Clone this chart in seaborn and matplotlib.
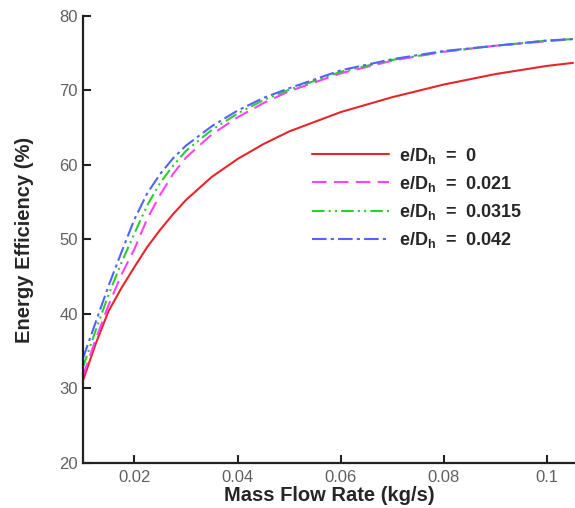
import pandas as pd
import numpy as np
import matplotlib
matplotlib.use('Agg')
import matplotlib.pyplot as plt
import seaborn as sns

# mass flow rate (kg/s)
mass_flow = [0.01, 0.0125, 0.015, 0.0175, 0.02, 0.0225, 0.025, 0.0275, 0.03, 0.035,
             0.04, 0.045, 0.05, 0.06, 0.07, 0.08, 0.09, 0.1, 0.105]

# energy efficiency (%) for each e/Dh
eff_0 = [31.0, 36.0, 40.4, 43.5, 46.3, 49.0, 51.3, 53.4, 55.3, 58.4,
         60.8, 62.8, 64.5, 67.1, 69.1, 70.8, 72.2, 73.3, 73.7]
eff_021 = [31.6, 36.6, 41.2, 45.3, 48.7, 52.8, 56.0, 58.8, 61.0, 64.1,
           66.4, 68.3, 69.9, 72.3, 74.0, 75.2, 76.0, 76.6, 76.9]
eff_0315 = [32.8, 37.8, 42.6, 46.9, 50.8, 54.6, 57.6, 59.9, 61.9, 64.7,
            66.9, 68.7, 70.1, 72.5, 74.1, 75.2, 76.0, 76.7, 76.9]
eff_042 = [34.0, 38.9, 43.8, 48.3, 52.7, 56.2, 58.8, 60.9, 62.6, 65.2,
           67.3, 69.0, 70.3, 72.7, 74.2, 75.3, 76.0, 76.7, 76.9]

labels = [r'e/D$_\mathbf{h}$  =  0', r'e/D$_\mathbf{h}$  =  0.021',
          r'e/D$_\mathbf{h}$  =  0.0315', r'e/D$_\mathbf{h}$  =  0.042']
colors = ['#e8262a', '#ff40ff', '#2ecc2e', '#5064ff']
dash_styles = ['', (7, 3.5), (6, 2, 1, 2, 1, 2), (7, 2, 1.5, 2)]

frames = []
for lab, vals in zip(labels, [eff_0, eff_021, eff_0315, eff_042]):
    frames.append(pd.DataFrame({'flow': mass_flow, 'eff': vals, 'case': lab}))
df = pd.concat(frames, ignore_index=True)

sns.set_style('white')
plt.rcParams['font.family'] = ['Liberation Sans', 'DejaVu Sans']
plt.rcParams['mathtext.fontset'] = 'custom'
plt.rcParams['mathtext.bf'] = 'Liberation Sans:bold'
plt.rcParams['mathtext.rm'] = 'Liberation Sans'

fig = plt.figure(figsize=(5.75, 5.08), dpi=100)
ax = fig.add_axes([0.144, 0.0886, 0.856, 0.88])

sns.lineplot(data=df, x='flow', y='eff', hue='case', style='case',
             palette=dict(zip(labels, colors)),
             dashes=dict(zip(labels, dash_styles)),
             linewidth=1.5, ax=ax)

ax.set_xlim(0.01, 0.1054)
ax.set_ylim(20, 80)
ax.set_xticks([0.02, 0.04, 0.06, 0.08, 0.1])
ax.set_xticklabels(['0.02', '0.04', '0.06', '0.08', '0.1'])
ax.set_yticks([20, 30, 40, 50, 60, 70, 80])

for s in ['top', 'right']:
    ax.spines[s].set_visible(False)
for s in ['left', 'bottom']:
    ax.spines[s].set_linewidth(1.6)
    ax.spines[s].set_color('#222222')

ax.tick_params(direction='in', length=6, width=1.5, color='#222222',
               labelsize=12, labelcolor='#606060', left=True, bottom=True)
ax.tick_params(axis='x', pad=5)

ax.set_xlabel('Mass Flow Rate (kg/s)', fontsize=14.5, fontweight='bold', labelpad=1)
ax.set_ylabel('Energy Efficiency (%)', fontsize=14.5, fontweight='bold', labelpad=18)

ax.legend(loc='upper left', bbox_to_anchor=(0.465, 0.71), frameon=False,
          borderpad=0, borderaxespad=0,
          handlelength=4.3, handletextpad=0.55, labelspacing=0.45,
          prop={'size': 13, 'weight': 'bold'})

fig.savefig('out.png', dpi=100)
